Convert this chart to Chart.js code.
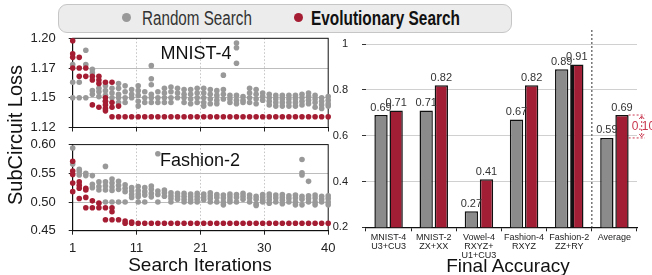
<!DOCTYPE html>
<html>
<head>
<meta charset="utf-8">
<script src="https://cdn.jsdelivr.net/npm/chart.js@4.4.1/dist/chart.umd.min.js"></script>
<style>
body { margin: 0; width: 652px; height: 275px; position: relative; overflow: hidden; background: #fff; font-family: 'Liberation Sans', Arial, sans-serif; }
canvas { position: absolute; }
.txt { position: absolute; white-space: nowrap; line-height: 1; color: #111; }
.dot { position: absolute; width: 9px; height: 9px; border-radius: 50%; }
#legend { position: absolute; left: 58px; top: 4px; width: 452px; height: 27px; border: 1px solid #c6c6c6; border-radius: 9px; background: #ececec; }
</style>
</head>
<body>
<div id="legend"></div>
<div class="dot" style="left:122px;top:13px;background:#999"></div>
<div class="txt" style="left:142px;top:8px;font-size:20px;color:#333;transform:scaleX(0.76);transform-origin:left center">Random Search</div>
<div class="dot" style="left:294px;top:13px;background:#a51d33"></div>
<div class="txt" style="left:311px;top:8px;font-size:20px;font-weight:bold;transform:scaleX(0.77);transform-origin:left center">Evolutionary Search</div>

<canvas id="lossTop" width="340" height="105" style="left:0;top:30px"></canvas>
<canvas id="lossBottom" width="340" height="140" style="left:0;top:135px"></canvas>
<canvas id="accChart" width="322" height="245" style="left:330px;top:30px"></canvas>

<div class="txt" style="left:96px;top:44px;width:200px;text-align:center;font-size:18px">MNIST-4</div>
<div class="txt" style="left:100px;top:151px;width:200px;text-align:center;font-size:18px">Fashion-2</div>
<div class="txt" style="left:-85px;top:125px;width:200px;text-align:center;font-size:20px;transform:rotate(-90deg)">SubCircuit Loss</div>
<div class="txt" style="left:50px;top:255px;width:300px;text-align:center;font-size:19px">Search Iterations</div>
<div class="txt" style="left:358px;top:256px;width:300px;text-align:center;font-size:19px">Final Accuracy</div>

<script>
Chart.defaults.font.family = "'Liberation Sans', Arial, sans-serif"

const iterations = [1, 2, 3, 4, 5, 6, 7, 8, 9, 10, 11, 12, 13, 14, 15, 16, 17, 18, 19, 20,
    21, 22, 23, 24, 25, 26, 27, 28, 29, 30, 31, 32, 33, 34, 35, 36, 37, 38, 39, 40]
const xTickValues = [1, 10.75, 20.5, 30.25, 40]
const xTickLabels = ['1', '11', '21', '30', '40']

const mnistTicks = [1.125, 1.15, 1.175, 1.2]
const mnistTickLabels = ['1.12', '1.15', '1.17', '1.20']
const fashionTicks = [0.45, 0.5, 0.55, 0.6]
const fashionTickLabels = ['0.45', '0.50', '0.55', '0.60']

// losses of the sampled subcircuits, one list per search iteration
const mnistRandom = [
    [1.178, 1.163, 1.150], [1.163, 1.150], [1.190, 1.178, 1.150], [1.174, 1.171, 1.156, 1.153],
    [1.158, 1.155, 1.151], [1.160, 1.156, 1.152, 1.147], [1.158, 1.154, 1.150], [1.162, 1.158, 1.153, 1.150, 1.146],
    [1.160, 1.155, 1.150, 1.146], [1.157, 1.153, 1.150], [1.160, 1.156, 1.152, 1.147, 1.143], [1.155, 1.150, 1.146],
    [1.177, 1.166, 1.161, 1.153, 1.150, 1.146], [1.155, 1.150, 1.146], [1.158, 1.154, 1.150, 1.146], [1.159, 1.155, 1.150, 1.146],
    [1.158, 1.154, 1.150], [1.157, 1.153, 1.150, 1.146], [1.157, 1.153, 1.149, 1.145], [1.158, 1.154, 1.150, 1.146],
    [1.158, 1.154, 1.150, 1.146, 1.143], [1.157, 1.153, 1.149, 1.145], [1.156, 1.152, 1.148, 1.145], [1.169, 1.157, 1.153, 1.149],
    [1.152, 1.149, 1.146], [1.196, 1.192, 1.179, 1.152, 1.148, 1.145], [1.151, 1.148, 1.146], [1.158, 1.154, 1.150, 1.146],
    [1.157, 1.153, 1.149, 1.145], [1.154, 1.151, 1.148], [1.153, 1.150, 1.147, 1.144], [1.152, 1.149, 1.146, 1.143],
    [1.152, 1.149, 1.146, 1.143], [1.152, 1.149, 1.146, 1.143], [1.152, 1.149, 1.146, 1.143], [1.153, 1.150, 1.147, 1.144],
    [1.154, 1.151, 1.148, 1.145], [1.152, 1.149, 1.146, 1.142], [1.150, 1.147, 1.144, 1.141], [1.151, 1.148, 1.145, 1.143]
]
const mnistEvo = [
    [1.198, 1.187, 1.184, 1.175], [1.184, 1.175, 1.168], [1.175, 1.168], [1.168, 1.165, 1.144],
    [1.168, 1.165, 1.162, 1.142], [1.163, 1.150, 1.147, 1.144, 1.141, 1.139], [1.163, 1.146, 1.142, 1.134], [1.143, 1.134],
    [1.134], [1.134], [1.134], [1.134], [1.134], [1.134], [1.134], [1.134], [1.134], [1.134], [1.134], [1.134],
    [1.134], [1.134], [1.134], [1.134], [1.134], [1.134], [1.134], [1.134], [1.134], [1.134],
    [1.134], [1.134], [1.134], [1.134], [1.134], [1.134], [1.134], [1.134], [1.134], [1.134]
]
const fashionRandom = [
    [0.594, 0.566], [0.557, 0.553, 0.547], [0.550, 0.546], [0.546, 0.531, 0.525],
    [0.535, 0.527, 0.521], [0.562, 0.535, 0.528, 0.521, 0.500], [0.540, 0.533, 0.526, 0.520, 0.500], [0.536, 0.529, 0.522, 0.500],
    [0.530, 0.524, 0.518, 0.500], [0.525, 0.519, 0.513, 0.508], [0.527, 0.520, 0.514, 0.509, 0.500], [0.525, 0.518, 0.512, 0.500],
    [0.528, 0.522, 0.515, 0.509], [0.584, 0.519, 0.513, 0.500], [0.521, 0.516, 0.510], [0.516, 0.511, 0.506, 0.500],
    [0.515, 0.510, 0.505], [0.515, 0.510, 0.505, 0.500], [0.514, 0.509, 0.504, 0.500], [0.515, 0.510, 0.505, 0.500],
    [0.514, 0.509, 0.504], [0.516, 0.511, 0.506, 0.500], [0.513, 0.508, 0.500], [0.512, 0.507, 0.500, 0.495],
    [0.514, 0.509, 0.504, 0.500], [0.513, 0.508, 0.500], [0.515, 0.510, 0.505], [0.512, 0.507, 0.500],
    [0.510, 0.505, 0.497, 0.494], [0.513, 0.508, 0.503, 0.500], [0.514, 0.509, 0.504, 0.498], [0.512, 0.507, 0.500],
    [0.513, 0.508, 0.503, 0.497], [0.511, 0.506, 0.500], [0.512, 0.507, 0.500, 0.495], [0.574, 0.551, 0.547, 0.510, 0.505, 0.495],
    [0.536, 0.511, 0.506, 0.500], [0.512, 0.507, 0.500, 0.495], [0.510, 0.505, 0.500], [0.511, 0.506, 0.500, 0.495]
]
const fashionEvo = [
    [0.571, 0.554, 0.548, 0.533, 0.518], [0.535, 0.529, 0.524, 0.506], [0.524, 0.521, 0.508, 0.490], [0.502, 0.490],
    [0.498, 0.490], [0.490, 0.469], [0.490, 0.483, 0.469], [0.469], [0.467, 0.463], [0.465, 0.463],
    [0.463], [0.463], [0.463], [0.463], [0.463], [0.463], [0.463], [0.463], [0.463], [0.463],
    [0.463], [0.463], [0.463], [0.463], [0.463], [0.463], [0.463], [0.463], [0.463], [0.463],
    [0.463], [0.463], [0.463], [0.463], [0.463], [0.463], [0.463], [0.463], [0.463], [0.463]
]

const tasks = [['MNIST-4', 'U3+CU3'], ['MNIST-2', 'ZX+XX'], ['Vowel-4', 'RXYZ+', 'U1+CU3'],
    ['Fashion-4', 'RXYZ'], ['Fashion-2', 'ZZ+RY'], ['Average']]
const randomAcc = [0.69, 0.71, 0.27, 0.67, 0.89, 0.59]
const evoAcc = [0.71, 0.82, 0.41, 0.82, 0.91, 0.69]

const GREY = '#999999'
const RED = '#a51d33'
const BAR_GREY = '#8b8b8b'
const BAR_RED = '#a11e35'
const NOTE_RED = '#c9384f'

function toPoints(lists) {
    return lists.flatMap((vals, k) => vals.map(v => ({ x: iterations[k], y: v })))
}

// fix an axis' thickness and drop the label overflow padding so the plot areas line up
function fixSize(s, size) {
    if (s.isHorizontal()) s.height = size
    else s.width = size
    s.paddingLeft = 0
    s.paddingRight = 0
    s.paddingTop = 0
    s.paddingBottom = 0
}

const boxPlugin = {
    id: 'box',
    beforeDatasetsDraw(chart) {
        const a = chart.chartArea
        const ctx = chart.ctx
        ctx.save()
        ctx.strokeStyle = '#111'
        ctx.lineWidth = 1
        ctx.strokeRect(a.left, a.top, a.right - a.left, a.bottom - a.top)
        ctx.restore()
    }
}

function drawLoss(id, randomVals, evoVals, yTicks, yLabels, showXLabels, padTop, xHeight) {
    return new Chart(document.getElementById(id), {
        type: 'scatter',
        data: {
            datasets: [
                { label: 'Evolutionary Search', data: toPoints(evoVals), pointBackgroundColor: RED, pointRadius: 2.8, pointBorderWidth: 0, clip: false },
                { label: 'Random Search', data: toPoints(randomVals), pointBackgroundColor: GREY, pointRadius: 2.8, pointBorderWidth: 0, clip: false }
            ]
        },
        options: {
            responsive: false,
            animation: false,
            layout: { autoPadding: false, padding: { top: padTop, right: 11.8, left: 0, bottom: 0 } },
            plugins: { legend: { display: false }, tooltip: { enabled: false } },
            scales: {
                x: {
                    type: 'linear', min: 1, max: 40,
                    afterBuildTicks: s => { s.ticks = xTickValues.map(v => ({ value: v })) },
                    afterFit: s => fixSize(s, xHeight),
                    ticks: { display: showXLabels, callback: (v, i) => xTickLabels[i], font: { size: 13 }, color: '#222', padding: 6, maxRotation: 0 },
                    grid: { color: c => (c.index === 0 || c.index === 4) ? 'rgba(0,0,0,0)' : '#c4c4c4', tickColor: '#222', tickLength: 4 },
                    border: { color: '#111', dash: [1.5, 2] }
                },
                y: {
                    min: yTicks[0], max: yTicks[yTicks.length - 1],
                    afterBuildTicks: s => { s.ticks = yTicks.map(v => ({ value: v })) },
                    afterFit: s => fixSize(s, 72.7),
                    ticks: { callback: (v, i) => yLabels[i], font: { size: 13 }, color: '#222', padding: 13 },
                    grid: { color: c => (c.index === 0 || c.index === 3) ? 'rgba(0,0,0,0)' : '#bdbdbd', tickColor: '#222', tickLength: 4 },
                    border: { color: '#111' }
                }
            }
        },
        plugins: [boxPlugin]
    })
}

drawLoss('lossTop', mnistRandom, mnistEvo, mnistTicks, mnistTickLabels, false, 8.3, 7.5)
drawLoss('lossBottom', fashionRandom, fashionEvo, fashionTicks, fashionTickLabels, true, 9.6, 44.3)

const barLabels = {
    id: 'barLabels',
    afterDatasetsDraw(chart) {
        const ctx = chart.ctx
        ctx.save()
        ctx.font = "11px 'Liberation Sans', Arial, sans-serif"
        ctx.fillStyle = '#333'
        ctx.textAlign = 'center'
        ctx.textBaseline = 'alphabetic'
        chart.data.datasets.forEach((ds, d) => {
            chart.getDatasetMeta(d).data.forEach((bar, i) => {
                ctx.fillText(ds.data[i].toFixed(2), bar.x, bar.y - 4.5)
            })
        })
        ctx.restore()
    }
}

const averageNote = {
    id: 'averageNote',
    afterDraw(chart) {
        const ctx = chart.ctx
        const xs = chart.scales.x
        const ys = chart.scales.y
        const area = chart.chartArea
        const n = tasks.length - 1

        // dotted divider before the average group
        const bx = (xs.getPixelForTick(n - 1) + xs.getPixelForTick(n)) / 2
        ctx.save()
        ctx.strokeStyle = '#555'
        ctx.lineWidth = 1.2
        ctx.setLineDash([2, 2])
        ctx.beginPath()
        ctx.moveTo(bx, 0)
        ctx.lineTo(bx, area.bottom)
        ctx.stroke()

        // gap between the two averages
        const red = chart.getDatasetMeta(1).data[n]
        const yHi = ys.getPixelForValue(evoAcc[n])
        const yLo = ys.getPixelForValue(randomAcc[n])
        const x0 = red.x + red.width / 2
        const x1 = area.right + 8
        const ax = area.right + 4.7
        ctx.strokeStyle = NOTE_RED
        ctx.lineWidth = 1
        ctx.setLineDash([2, 2])
        ctx.beginPath()
        ctx.moveTo(x0, yHi); ctx.lineTo(x1, yHi)
        ctx.moveTo(x0, yLo); ctx.lineTo(x1, yLo)
        ctx.moveTo(ax, yHi + 2); ctx.lineTo(ax, yLo - 2)
        ctx.stroke()
        ctx.setLineDash([])
        ctx.beginPath()
        ctx.moveTo(ax - 2.5, yHi + 4); ctx.lineTo(ax, yHi + 1); ctx.lineTo(ax + 2.5, yHi + 4)
        ctx.moveTo(ax - 2.5, yLo - 4); ctx.lineTo(ax, yLo - 1); ctx.lineTo(ax + 2.5, yLo - 4)
        ctx.stroke()
        ctx.fillStyle = NOTE_RED
        ctx.font = "12px 'Liberation Sans', Arial, sans-serif"
        ctx.textAlign = 'left'
        ctx.textBaseline = 'middle'
        ctx.fillText((evoAcc[n] - randomAcc[n]).toFixed(2), area.right - 5.3, (yHi + yLo) / 2)
        ctx.restore()
    }
}

new Chart(document.getElementById('accChart'), {
    type: 'bar',
    data: {
        labels: tasks,
        datasets: [
            { label: 'Random Search', data: randomAcc, backgroundColor: BAR_GREY, borderColor: '#111', borderWidth: 1.5, borderSkipped: false },
            {
                label: 'Evolutionary Search', data: evoAcc, backgroundColor: BAR_RED, borderColor: '#111', borderSkipped: false,
                borderWidth: c => c.dataIndex === 4 ? { top: 1.5, right: 1.5, bottom: 1.5, left: 4 } : 1.5
            }
        ]
    },
    options: {
        responsive: false,
        animation: false,
        datasets: { bar: { categoryPercentage: 0.67, barPercentage: 0.88 } },
        layout: { autoPadding: false, padding: { top: 14, right: 15, left: 0, bottom: 0 } },
        plugins: { legend: { display: false }, tooltip: { enabled: false } },
        scales: {
            x: {
                afterFit: s => fixSize(s, 47.7),
                ticks: { font: { size: 9, lineHeight: 1.05 }, color: '#222', padding: 1, maxRotation: 0, autoSkip: false },
                grid: { offset: true, drawOnChartArea: false, tickLength: 4, tickColor: '#222' },
                border: { color: '#111', width: 1.3 }
            },
            y: {
                min: 0.2, max: 1,
                afterFit: s => fixSize(s, 36),
                ticks: { stepSize: 0.2, font: { size: 11 }, color: '#222', padding: 14, callback: v => String(+v.toFixed(1)) },
                grid: { color: '#d0d0d0', tickColor: '#333', tickLength: 4 },
                border: { display: false }
            }
        }
    },
    plugins: [barLabels, averageNote]
})
</script>
</body>
</html>
